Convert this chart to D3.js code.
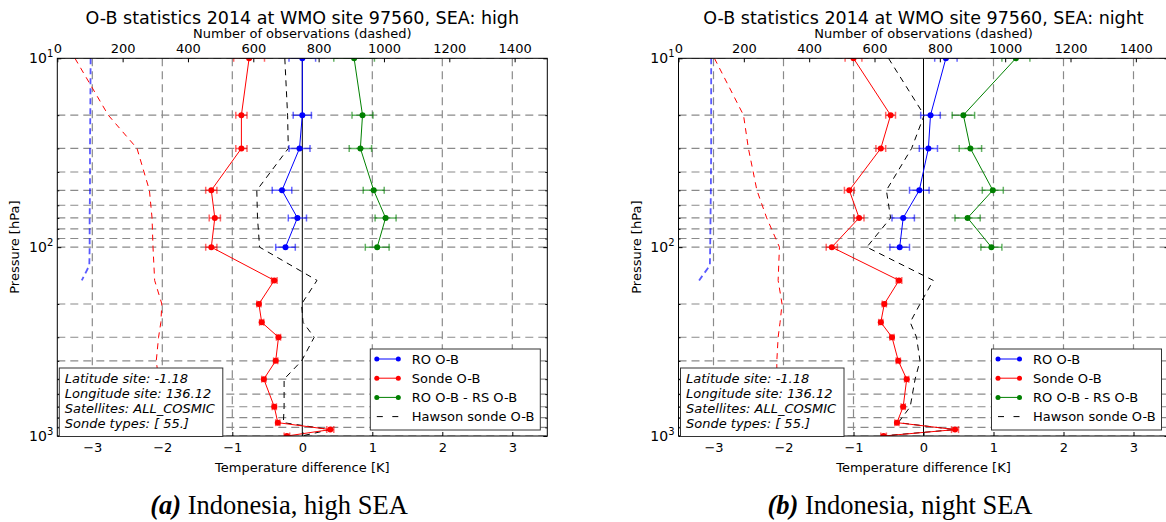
<!DOCTYPE html>
<html><head><meta charset="utf-8">
<script src="https://cdn.jsdelivr.net/npm/d3@7"></script>
<style>
body{margin:0;background:#fff}
text{font-family:"DejaVu Sans",sans-serif;fill:#000}
</style>
</head><body>
<svg id="c" width="1166" height="522"></svg>
<script>
// ---------------- data ----------------
const roLevels = [10, 20, 30, 50, 70, 100];
const sondeLevels = [10, 20, 30, 50, 70, 100, 150, 200, 250, 300, 400, 500, 700, 850, 925, 1000];
const roCountLevels = [10, 20, 30, 50, 70, 100, 125, 150];
const tempTicks = [-3, -2, -1, 0, 1, 2, 3];
const countTicks = [0, 200, 400, 600, 800, 1000, 1200, 1400];
const pressureMajor = [10, 100, 1000];
const pressureMinor = [20, 30, 40, 50, 60, 70, 80, 90, 200, 300, 400, 500, 600, 700, 800, 900];
const legendLabels = ["RO O-B", "Sonde O-B", "RO O-B - RS O-B", "Hawson sonde O-B"];
const infoLines = ["Latitude site: -1.18", "Longitude site: 136.12", "Satellites: ALL_COSMIC", "Sonde types: [ 55.]"];

// panel (a) high SEA
const roA      = [0.00, 0.00, -0.04, -0.29, -0.07, -0.24];
const roErrA   = [0.19, 0.13, 0.15, 0.14, 0.13, 0.14];
const sondeA   = [-0.76, -0.87, -0.87, -1.30, -1.25, -1.30, -0.40, -0.62, -0.58, -0.34, -0.38, -0.55, -0.40, -0.35, 0.40, -0.22];
const sondeErrA= [0.22, 0.08, 0.08, 0.08, 0.08, 0.08, 0.04, 0.03, 0.03, 0.03, 0.03, 0.03, 0.03, 0.03, 0.05, 0.04];
const diffA    = [0.74, 0.86, 0.83, 1.02, 1.19, 1.07];
const diffErrA = [0.29, 0.15, 0.16, 0.15, 0.15, 0.17];
const hawsonA  = [-0.25, -0.21, -0.20, -0.65, -0.64, -0.61, 0.21, -0.01, 0.01, 0.17, -0.01, -0.26, -0.26, -0.27, 0.40, -0.01];
const sondeCountA = [54, 156, 244, 282, 290, 293, 298, 320, 317, 310, 303, 310, 313, 320, 309, 294];
const roCountA    = [102, 101, 100, 100, 99, 99, 98, 75];

// panel (b) night SEA
const roB      = [0.32, 0.10, 0.07, -0.06, -0.29, -0.34];
const roErrB   = [0.16, 0.14, 0.13, 0.14, 0.16, 0.14];
const sondeB   = [-1.00, -0.47, -0.61, -1.06, -0.92, -1.31, -0.35, -0.56, -0.61, -0.45, -0.36, -0.24, -0.29, -0.38, 0.45, -0.57];
const sondeErrB= [0.12, 0.07, 0.07, 0.07, 0.07, 0.08, 0.04, 0.03, 0.03, 0.03, 0.03, 0.03, 0.03, 0.03, 0.05, 0.04];
const diffB    = [1.32, 0.57, 0.67, 0.99, 0.63, 0.97];
const diffErrB = [0.20, 0.16, 0.16, 0.15, 0.18, 0.15];
const hawsonB  = [-0.50, 0.01, -0.17, -0.53, -0.47, -0.81, 0.14, -0.05, -0.19, -0.10, -0.05, -0.12, -0.19, -0.36, 0.45, -0.60];
const sondeCountB = [110, 199, 214, 240, 270, 309, 305, 317, 311, 305, 301, 301, 305, 301, 296, 293];
const roCountB    = [100, 100, 100, 99, 98, 97, 96, 63];

// ---------------- drawing ----------------
const svg = d3.select("#c");
const W = 490, TOP = 58.3, BOT = 436;
const COL = {ro: "#0000ff", sonde: "#ff0000", diff: "#008000", haw: "#000000"};
const intFmt = d3.format("d");

function panel(cfg, idx) {
  const L = cfg.left;
  const x = d3.scaleLinear().domain([-3.5, 3.5]).range([L, L + W]);
  const xc = d3.scaleLinear().domain([0, 1500]).range([L, L + W]);
  const y = d3.scaleLog().domain([10, 1000]).range([TOP, BOT]);
  const g = svg.append("g");
  const clipId = "clip" + idx;
  svg.append("clipPath").attr("id", clipId).append("rect")
    .attr("x", L).attr("y", TOP).attr("width", W).attr("height", BOT - TOP);
  const pg = g.append("g").attr("clip-path", `url(#${clipId})`);

  // grid
  pg.selectAll(".hg").data(pressureMajor.concat(pressureMinor)).join("line")
    .attr("x1", L).attr("x2", L + W).attr("y1", d => y(d)).attr("y2", d => y(d))
    .attr("stroke", "#8a8a8a").attr("stroke-width", 1.2).attr("stroke-dasharray", "8,5");
  pg.selectAll(".vg").data(tempTicks.filter(d => d !== 0)).join("line")
    .attr("x1", d => x(d)).attr("x2", d => x(d)).attr("y1", TOP).attr("y2", BOT)
    .attr("stroke", "#8a8a8a").attr("stroke-width", 1.2).attr("stroke-dasharray", "8,5");
  pg.append("line").attr("x1", x(0)).attr("x2", x(0)).attr("y1", TOP).attr("y2", BOT)
    .attr("stroke", "#000").attr("stroke-width", 1);

  // count lines (top axis)
  const lc = (lv) => d3.line().x((d) => xc(d)).y((d, i) => y(lv[i]));
  pg.append("path").attr("d", lc(roCountLevels)(cfg.roCount)).attr("fill", "none")
    .attr("stroke", COL.ro).attr("stroke-opacity", 0.65).attr("stroke-width", 1.8).attr("stroke-dasharray", "6,4");
  pg.append("path").attr("d", lc(sondeLevels)(cfg.sondeCount)).attr("fill", "none")
    .attr("stroke", COL.sonde).attr("stroke-width", 1).attr("stroke-dasharray", "6,5");

  // hawson
  const lt = (lv) => d3.line().x((d) => x(d)).y((d, i) => y(lv[i]));
  pg.append("path").attr("d", lt(sondeLevels)(cfg.hawson)).attr("fill", "none")
    .attr("stroke", COL.haw).attr("stroke-width", 1).attr("stroke-dasharray", "6,5");

  function series(vals, errs, lv, col) {
    const sg = pg.append("g");
    sg.append("path").attr("d", lt(lv)(vals)).attr("fill", "none").attr("stroke", col).attr("stroke-width", 1);
    const eb = sg.selectAll(".eb").data(vals).join("g").attr("stroke", col).attr("stroke-opacity", 0.6).attr("stroke-width", 1.5);
    eb.append("line").attr("x1", (d, i) => x(d - errs[i])).attr("x2", (d, i) => x(d + errs[i]))
      .attr("y1", (d, i) => y(lv[i])).attr("y2", (d, i) => y(lv[i]));
    eb.append("line").attr("x1", (d, i) => x(d - errs[i])).attr("x2", (d, i) => x(d - errs[i]))
      .attr("y1", (d, i) => y(lv[i]) - 3.5).attr("y2", (d, i) => y(lv[i]) + 3.5);
    eb.append("line").attr("x1", (d, i) => x(d + errs[i])).attr("x2", (d, i) => x(d + errs[i]))
      .attr("y1", (d, i) => y(lv[i]) - 3.5).attr("y2", (d, i) => y(lv[i]) + 3.5);
    sg.selectAll("circle").data(vals).join("circle")
      .attr("cx", d => x(d)).attr("cy", (d, i) => y(lv[i])).attr("r", 3).attr("fill", col);
  }
  series(cfg.sonde, cfg.sondeErr, sondeLevels, COL.sonde);
  series(cfg.ro, cfg.roErr, roLevels, COL.ro);
  series(cfg.diff, cfg.diffErr, roLevels, COL.diff);

  // axes
  const ax = g.append("g").attr("class", "axes");
  ax.append("g").attr("transform", `translate(0,${BOT})`)
    .call(d3.axisBottom(x).tickValues(tempTicks).tickFormat(intFmt).tickSizeInner(-4).tickSizeOuter(0).tickPadding(7));
  ax.append("g").attr("transform", `translate(0,${TOP})`)
    .call(d3.axisTop(xc).tickValues(countTicks).tickFormat(intFmt).tickSizeInner(-4).tickSizeOuter(0).tickPadding(5));
  ax.append("g").attr("transform", `translate(${L},0)`)
    .call(d3.axisLeft(y).tickValues(pressureMajor).tickSizeInner(-4).tickSizeOuter(0).tickFormat(() => ""));
  ax.append("g").attr("transform", `translate(${L},0)`)
    .call(d3.axisLeft(y).tickValues(pressureMinor).tickSizeInner(-2).tickSizeOuter(0).tickFormat(() => ""));
  ax.append("g").attr("transform", `translate(${L + W},0)`)
    .call(d3.axisRight(y).tickValues(pressureMajor).tickSizeInner(-4).tickSizeOuter(0).tickFormat(() => ""));
  ax.append("g").attr("transform", `translate(${L + W},0)`)
    .call(d3.axisRight(y).tickValues(pressureMinor).tickSizeInner(-2).tickSizeOuter(0).tickFormat(() => ""));
  ax.selectAll(".domain").remove();
  ax.selectAll(".tick line").attr("stroke", "#000");
  ax.selectAll("text").attr("font-size", 13).attr("font-family", "DejaVu Sans");

  // y tick labels 10^n
  pressureMajor.forEach(p => {
    const t = g.append("text").attr("x", L - 4).attr("y", y(p) + 5).attr("text-anchor", "end").attr("font-size", 14);
    t.append("tspan").text("10");
    t.append("tspan").attr("dy", -6).attr("font-size", 10).text(String(Math.round(Math.log10(p))));
  });

  g.append("rect").attr("x", L).attr("y", TOP).attr("width", W).attr("height", BOT - TOP)
    .attr("fill", "none").attr("stroke", "#000").attr("stroke-width", 1);

  // titles
  g.append("text").attr("x", L + W / 2).attr("y", 23.5).attr("text-anchor", "middle").attr("font-size", 17.5).text(cfg.title);
  g.append("text").attr("x", L + W / 2).attr("y", 38).attr("text-anchor", "middle").attr("font-size", 13).text("Number of observations (dashed)");
  g.append("text").attr("x", L + W / 2).attr("y", 472).attr("text-anchor", "middle").attr("font-size", 13).text("Temperature difference [K]");
  g.append("text").attr("transform", `translate(${L - 38},${(TOP + BOT) / 2}) rotate(-90)`)
    .attr("text-anchor", "middle").attr("font-size", 13).text("Pressure [hPa]");

  // info box
  const ib = g.append("g");
  ib.append("rect").attr("x", L + 2).attr("y", 368).attr("width", 163.5).attr("height", 68.5)
    .attr("fill", "#fff").attr("stroke", "#333").attr("stroke-width", 1);
  infoLines.forEach((s, i) => ib.append("text").attr("x", L + 7.5).attr("y", 383 + i * 15)
    .attr("font-size", 13).attr("font-style", "italic").text(s));

  // legend
  const lg = g.append("g");
  lg.append("rect").attr("x", L + 313).attr("y", 349).attr("width", 170).attr("height", 81)
    .attr("fill", "#fff").attr("stroke", "#333").attr("stroke-width", 1);
  const lcols = [COL.ro, COL.sonde, COL.diff, COL.haw];
  legendLabels.forEach((s, i) => {
    const yy = 359 + i * 19.2;
    if (i < 3) {
      lg.append("line").attr("x1", L + 319.5).attr("x2", L + 341).attr("y1", yy).attr("y2", yy).attr("stroke", lcols[i]).attr("stroke-width", 1);
      [L + 319.5, L + 341].forEach(cx => lg.append("circle").attr("cx", cx).attr("cy", yy).attr("r", 2.5).attr("fill", lcols[i]));
    } else {
      lg.append("line").attr("x1", L + 319.5).attr("x2", L + 341).attr("y1", yy).attr("y2", yy).attr("stroke", "#000")
        .attr("stroke-width", 1).attr("stroke-dasharray", "6,9.5");
    }
    lg.append("text").attr("x", L + 354.5).attr("y", yy + 4.5).attr("font-size", 13).text(s);
  });

  // caption
  const cap = svg.append("text").attr("x", cfg.capX).attr("y", 514).attr("text-anchor", "middle")
    .attr("font-family", "Liberation Serif").attr("font-size", 26.5);
  cap.append("tspan").attr("font-weight", "bold").attr("font-style", "italic").attr("font-family", "Liberation Serif").text(cfg.capTag);
  cap.append("tspan").attr("font-family", "Liberation Serif").text(cfg.capText);
}

panel({left: 57.3, title: "O-B statistics 2014 at WMO site 97560, SEA: high",
  ro: roA, roErr: roErrA, sonde: sondeA, sondeErr: sondeErrA, diff: diffA, diffErr: diffErrA,
  hawson: hawsonA, sondeCount: sondeCountA, roCount: roCountA,
  capX: 279, capTag: "(a)", capText: " Indonesia, high SEA"}, 0);
panel({left: 678.5, title: "O-B statistics 2014 at WMO site 97560, SEA: night",
  ro: roB, roErr: roErrB, sonde: sondeB, sondeErr: sondeErrB, diff: diffB, diffErr: diffErrB,
  hawson: hawsonB, sondeCount: sondeCountB, roCount: roCountB,
  capX: 900, capTag: "(b)", capText: " Indonesia, night SEA"}, 1);
</script>
</body></html>
